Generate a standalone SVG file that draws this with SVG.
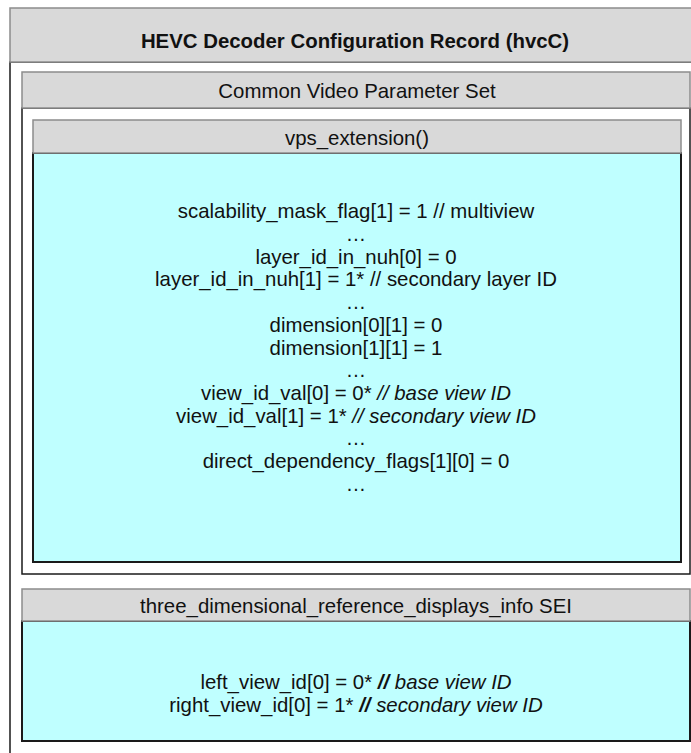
<svg xmlns="http://www.w3.org/2000/svg" width="691" height="753" viewBox="0 0 691 753">
<style>
.hdr{fill:#d9d9d9;stroke:#8c8c8c;stroke-width:1.5}
.box{fill:#ffffff;stroke:#1a1a1a;stroke-width:1.5}
.cy{fill:#bfffff;stroke:#1a1a1a;stroke-width:2}
text{font-family:"Liberation Sans",Arial,Helvetica,sans-serif;font-size:20.4px;fill:#111;text-anchor:middle}
.b{font-weight:bold}
.i{font-style:italic}
</style>
<rect x="0" y="0" width="691" height="753" fill="#ffffff"/>
<g id="hvcC">
<rect class="box" x="10" y="62" width="700" height="720"/>
<rect class="hdr" x="10" y="8" width="700" height="54"/>
<text class="b" x="355" y="47.5">HEVC Decoder Configuration Record (hvcC)</text>
</g>
<g id="cvps">
<rect class="box" x="22" y="108" width="668" height="466"/>
<rect class="hdr" x="22" y="72" width="668" height="36"/>
<text x="357" y="97.5">Common Video Parameter Set</text>
</g>
<g id="vps_extension">
<rect class="cy" x="33" y="153" width="648" height="409"/>
<rect class="hdr" x="33" y="120" width="648" height="33"/>
<text x="357" y="144.5">vps_extension()</text>
<text x="356" y="218.3">scalability_mask_flag[1] = 1 // multiview</text>
<text x="356" y="241">…</text>
<text x="356" y="263.7">layer_id_in_nuh[0] = 0</text>
<text x="356" y="286.4">layer_id_in_nuh[1] = 1* // secondary layer ID</text>
<text x="356" y="309.1">…</text>
<text x="356" y="331.8">dimension[0][1] = 0</text>
<text x="356" y="354.5">dimension[1][1] = 1</text>
<text x="356" y="377.2">…</text>
<text x="356" y="399.9">view_id_val[0] = 0* <tspan class="i">// base view ID</tspan></text>
<text x="356" y="422.6">view_id_val[1] = 1* <tspan class="i">// secondary view ID</tspan></text>
<text x="356" y="445.3">…</text>
<text x="356" y="468">direct_dependency_flags[1][0] = 0</text>
<text x="356" y="490.7">…</text>
</g>
<g id="sei">
<rect class="cy" x="22" y="621" width="668" height="120"/>
<rect class="hdr" x="22" y="589" width="668" height="32"/>
<text x="356" y="612.5">three_dimensional_reference_displays_info SEI</text>
<text x="356" y="689">left_view_id[0] = 0* <tspan class="i"><tspan class="b">//</tspan> base view ID</tspan></text>
<text x="356" y="711.7">right_view_id[0] = 1* <tspan class="i"><tspan class="b">//</tspan> secondary view ID</tspan></text>
</g>
<g id="connectors"></g>
</svg>
